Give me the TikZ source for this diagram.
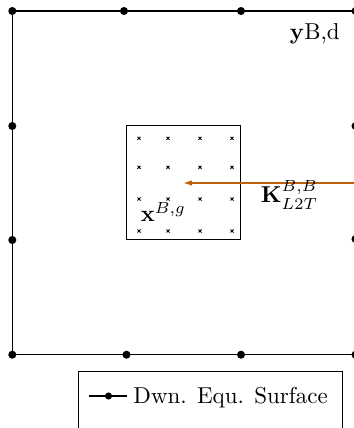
\documentclass[tikz,border=0pt]{standalone}
\usetikzlibrary{arrows.meta}
\definecolor{arrowc}{RGB}{190,95,10}
\tikzset{
  dot/.style={circle,fill=black,inner sep=0pt,minimum size=3.5pt},
  ldot/.style={circle,fill=black,inner sep=0pt,minimum size=3.1pt},
  edge/.style={draw=black,line width=0.45pt},
  qpt/.style={inner sep=0pt,minimum size=0pt},
  lbl/.style={inner sep=0pt,anchor=base west},
  karrow/.style={draw=arrowc,line width=0.45pt,-{Latex[length=3.8pt,width=2.4pt]}}
}
\begin{document}
\begin{tikzpicture}[x=0.4346pt,y=-0.4346pt]
\useasboundingbox (0,0) rectangle (354,428);
% outer boundary dots
\node[dot] (t1) at (12.3,11) {};
\node[dot] (t2) at (124,11) {};
\node[dot] (t3) at (241,11) {};
\node[dot] (t4) at (355.5,11) {};
\node[dot] (l2) at (12.3,126) {};
\node[dot] (l3) at (12.3,240) {};
\node[dot] (b1) at (12.3,354.7) {};
\node[dot] (b2) at (126.5,354.7) {};
\node[dot] (b3) at (241,354.7) {};
\node[dot] (b4) at (355.5,354.7) {};
\node[dot] (r2) at (355.5,126) {};
\node[dot] (r3) at (355.5,239) {};
\draw[edge] (t1.center) -- (t2.center) -- (t3.center) -- (t4.center);
\draw[edge] (b1.center) -- (b2.center) -- (b3.center) -- (b4.center);
\draw[edge] (t1.center) -- (l2.center) -- (l3.center) -- (b1.center);
\draw[edge] (t4.center) -- (r2.center) -- (r3.center) -- (b4.center);
% inner box
\node[draw,line width=0.45pt,inner sep=0pt,minimum width=114.7*0.4346pt,minimum height=113.5*0.4346pt] (box) at (183.4,182.7) {};
% quadrature points
\foreach \i/\xx in {1/139,2/168,3/200,4/232}{
  \foreach \j/\yy in {1/138.3,2/167.3,3/199,4/231}{
    \node[qpt] (q\i\j) at (\xx,\yy) {};
    \draw[line width=0.4pt] ([shift={(-1.5,-1.5)}]q\i\j.center) -- ([shift={(1.5,1.5)}]q\i\j.center)
                            ([shift={(-1.5,1.5)}]q\i\j.center) -- ([shift={(1.5,-1.5)}]q\i\j.center);
  }
}
% arrow
\coordinate (src) at (356,183);
\coordinate (tgt) at (183.3,183);
\draw[karrow] (src) -- (tgt);
% labels
\node[lbl] (ylab) at (289.5,40) {$\mathbf{y}$B,d};
\node[lbl] (klab) at (260.5,203) {$\mathbf{K}^{B,B}_{L2T}$};
\node[lbl] (xlab) at (140.5,222) {$\mathbf{x}^{B,g}$};
% legend
\node[draw,line width=0.45pt,inner sep=0pt,minimum width=264*0.4346pt,minimum height=70*0.4346pt,anchor=north west] (leg) at (78,371) {};
\coordinate (la) at (89,396);
\coordinate (lb) at (127,396);
\node[ldot] (ld) at (108.5,396) {};
\draw[edge] (la) -- (ld.center) -- (lb);
\node[lbl] (ltext) at (133,403.3) {Dwn. Equ. Surface};
\end{tikzpicture}
\end{document}
